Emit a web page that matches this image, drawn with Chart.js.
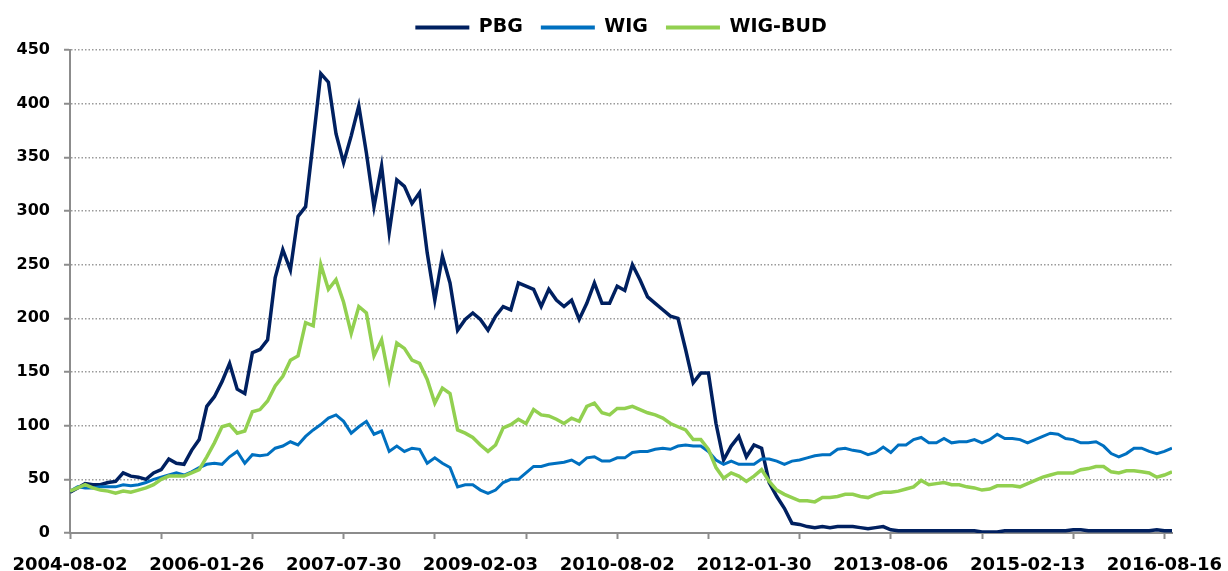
<!DOCTYPE html>
<html>
<head>
<meta charset="utf-8">
<script src="https://cdn.jsdelivr.net/npm/chart.js@4.4.1/dist/chart.umd.min.js"></script>
<style>
    html, body { margin: 0; padding: 0; background: #fff; }
    #wrap { width: 1228px; height: 571px; position: relative; }
</style>
</head>
<body>
<div id="wrap"><canvas id="chart"></canvas></div>
<script>
// tick labels shown under the x axis (every 18th sample)
var xTickLabels = ['2004-08-02', '2006-01-26', '2007-07-30', '2009-02-03', '2010-08-02',
    '2012-01-30', '2013-08-06', '2015-02-13', '2016-08-16'];

// values, one sample every ~7.6 px
var pbg = [38,42,46,45,45,47,48,56,53,52,
    50,56,59,69,65,64,77,87,118,127,
    141,158,134,130,168,171,180,238,264,245,
    295,304,365,428,420,372,345,370,398,354,
    304,342,280,329,323,307,317,261,217,258,
    233,189,199,205,199,189,202,211,208,233,
    230,227,211,227,217,211,217,199,214,233,
    214,214,230,226,250,236,220,214,208,202,
    200,171,140,149,149,102,68,81,90,71,
    82,79,47,34,23,9,8,6,5,6,
    5,6,6,6,5,4,5,6,3,2,
    2,2,2,2,2,2,2,2,2,2,
    1,1,1,2,2,2,2,2,2,2,
    2,2,3,3,2,2,2,2,2,2,
    2,2,2,3,2,2];

var wig = [39,43,42,42,43,43,43,45,44,45,
    47,50,52,54,56,54,57,61,64,65,
    64,71,76,65,73,72,73,79,81,85,
    82,90,96,101,107,110,104,93,99,104,
    92,95,76,81,76,79,78,65,70,65,
    61,43,45,45,40,37,40,47,50,50,
    56,62,62,64,65,66,68,64,70,71,
    67,67,70,70,75,76,76,78,79,78,
    81,82,81,81,76,68,64,67,64,64,
    64,69,69,67,64,67,68,70,72,73,
    73,78,79,77,76,73,75,80,75,82,
    82,87,89,84,84,88,84,85,85,87,
    84,87,92,88,88,87,84,87,90,93,
    92,88,87,84,84,85,81,74,71,74,
    79,79,76,74,76,79];

var wigBud = [39,42,45,42,40,39,37,39,38,40,
    42,45,50,53,53,53,56,59,71,84,
    99,101,93,95,113,115,123,137,146,161,
    165,196,193,250,227,236,215,186,211,205,
    165,180,143,177,172,161,158,143,121,135,
    130,96,93,89,82,76,82,98,101,106,
    102,115,110,109,106,102,107,104,118,121,
    112,110,116,116,118,115,112,110,107,102,
    99,96,87,87,78,61,51,56,53,48,
    53,59,48,40,36,33,30,30,29,33,
    33,34,36,36,34,33,36,38,38,39,
    41,43,49,45,46,47,45,45,43,42,
    40,41,44,44,44,43,46,49,52,54,
    56,56,56,59,60,62,62,57,56,58,
    58,57,56,52,54,57];

var samples = pbg.map(function(v, i) { return i; });

var axisGray = '#8c8c8c';

// give the legend a bit more room below it
var legendMargin = {
    id: 'legendMargin',
    beforeInit: function(chart) {
        var fit = chart.legend.fit;
        chart.legend.fit = function() {
            fit.bind(chart.legend)();
            this.height += 3;
        };
    }
};

new Chart(document.getElementById('chart'), {
    type: 'line',
    data: {
        labels: samples,
        datasets: [{
            label: 'PBG',
            data: pbg,
            borderColor: '#002060',
            backgroundColor: '#002060',
            borderWidth: 3.5,
            order: 3
        }, {
            label: 'WIG',
            data: wig,
            borderColor: '#0070C0',
            backgroundColor: '#0070C0',
            borderWidth: 3,
            order: 2
        }, {
            label: 'WIG-BUD',
            data: wigBud,
            borderColor: '#92D050',
            backgroundColor: '#92D050',
            borderWidth: 3.5,
            order: 1
        }]
    },
    options: {
        responsive: true,
        maintainAspectRatio: false,
        animation: false,
        elements: { point: { radius: 0 }, line: { tension: 0 } },
        layout: { padding: { left: 0, right: 56, top: 0, bottom: 0 } },
        plugins: {
            tooltip: { enabled: false },
            legend: {
                position: 'top',
                fullSize: false,
                labels: {
                    boxWidth: 54,
                    boxHeight: 4,
                    padding: 18,
                    color: '#000',
                    font: { family: '"DejaVu Sans", sans-serif', size: 19, weight: 'bold' },
                    sort: function(a, b) { return a.datasetIndex - b.datasetIndex; },
                    generateLabels: function(chart) {
                        var items = Chart.defaults.plugins.legend.labels.generateLabels(chart);
                        items.forEach(function(it) { it.lineWidth = 0; });
                        return items;
                    }
                }
            }
        },
        scales: {
            x: {
                type: 'linear',
                min: 0,
                max: 145,
                afterBuildTicks: function(scale) {
                    var t = [];
                    for (var v = 0; v <= 144; v += 6) t.push({ value: v });
                    scale.ticks = t;
                },
                afterFit: function(scale) { scale.height = 38; },
                border: { display: true, color: axisGray, width: 2 },
                grid: {
                    drawOnChartArea: false,
                    drawTicks: true,
                    tickLength: 6,
                    tickWidth: 2,
                    tickColor: function(ctx) {
                        return ctx.tick && ctx.tick.value % 12 === 0 ? axisGray : 'rgba(0,0,0,0)';
                    }
                },
                ticks: {
                    autoSkip: false,
                    maxRotation: 0,
                    padding: 3,
                    color: '#000',
                    // tall line box pushes the labels down without widening the side padding
                    font: { family: '"DejaVu Sans", sans-serif', size: 18, weight: 'bold', lineHeight: 2.64 },
                    callback: function(value) {
                        return value % 18 === 0 ? xTickLabels[value / 18] : '';
                    }
                }
            },
            y: {
                min: 0,
                max: 450,
                afterFit: function(scale) { scale.width = 70; },
                border: { display: true, color: axisGray, width: 2, dash: [1.5, 2] },
                grid: {
                    color: '#9a9a9a',
                    lineWidth: 1.5,
                    tickLength: 6,
                    tickWidth: 2,
                    tickColor: axisGray,
                    tickBorderDash: []
                },
                ticks: {
                    stepSize: 50,
                    padding: 14,
                    color: '#000',
                    font: { family: '"DejaVu Sans", sans-serif', size: 16, weight: 'bold' }
                }
            }
        }
    },
    plugins: [legendMargin]
});
</script>
</body>
</html>
